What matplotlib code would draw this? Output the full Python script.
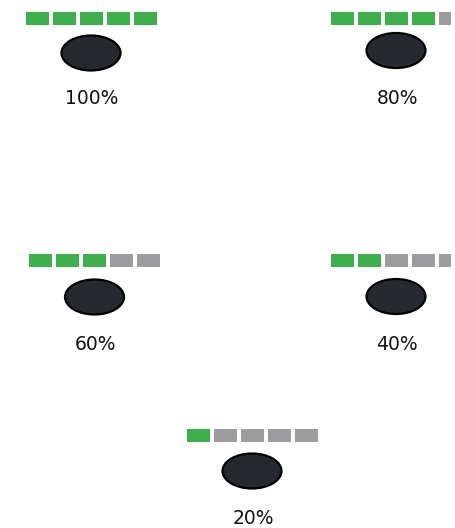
import matplotlib.pyplot as plt
from matplotlib.patches import Rectangle, Ellipse

# values shown by the chart
percents = [100, 80, 60, 40, 20]
labels = ['100%', '80%', '60%', '40%', '20%']
n_segments = 5

# layout (pixel space, y down)
centers_x = [91, 396, 94.5, 396, 252]
bar_top = [12, 12, 254, 254, 429]
ell_cy = [53, 50.5, 297, 296.5, 471]
label_cy = [98, 98, 345, 345, 518]

green = '#3daf4a'
grey = '#9c9c9f'
dark = '#262a2e'

seg_w = 23
seg_h = 13
pitch = 27


def draw_item(ax, i):
	"""draw one gauge: segments, ellipse and label"""
	filled = round(percents[i] / 100 * n_segments)
	left = centers_x[i] - (pitch * (n_segments - 1) + seg_w) / 2
	for k in range(n_segments):
		color = green if k < filled else grey
		ax.add_patch(Rectangle((left + k * pitch, bar_top[i]), seg_w, seg_h,
							   facecolor=color, edgecolor='none'))
	ax.add_patch(Ellipse((centers_x[i], ell_cy[i]), 59, 35,
						 facecolor=dark, edgecolor='black', linewidth=1.6))
	ax.text(centers_x[i] + 1, label_cy[i], labels[i], ha='center', va='center',
			fontsize=13.5, color='#111111', family='DejaVu Sans')


def main():
	fig = plt.figure(figsize=(4.55, 5.28), dpi=100)
	ax = fig.add_axes([0, 0, 451 / 455, 1])
	ax.set_xlim(0, 451)
	ax.set_ylim(528, 0)
	ax.axis('off')
	for i in range(len(percents)):
		draw_item(ax, i)
	fig.savefig('out.png', dpi=100)


if __name__ == "__main__":
	main()
